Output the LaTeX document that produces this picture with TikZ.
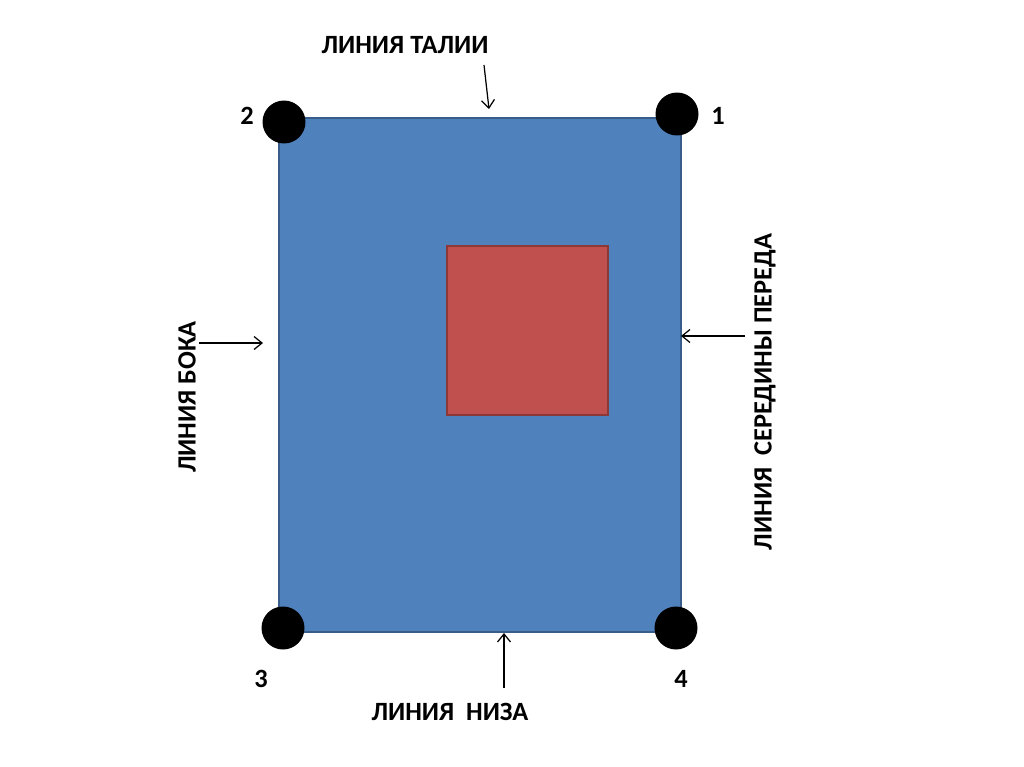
\documentclass[tikz,border=0pt]{standalone}
\usepackage{fontspec}
\usetikzlibrary{arrows.meta}
\setmainfont{Carlito}
\definecolor{panelblue}{HTML}{4F81BD}
\definecolor{panelblueline}{HTML}{385D8A}
\definecolor{patchred}{HTML}{C0504D}
\definecolor{patchredline}{HTML}{8C3836}
\begin{document}
\begin{tikzpicture}[
    x=0.02cm, y=-0.02cm,
    lbl/.style={font=\fontsize{15}{18}\selectfont\bfseries, inner sep=0pt},
    corner/.style={circle, fill=black, minimum size=0.86cm, inner sep=0pt},
    pointer/.style={-{Straight Barb[length=1.6mm, width=2.6mm]}, line width=0.7pt}
]
\useasboundingbox (0,0) rectangle (1024,767);

% Panel
\draw[fill=panelblue, draw=panelblueline, line width=1.2pt] (279,118) rectangle (681,632);

% Patch
\draw[fill=patchred, draw=patchredline, line width=1.2pt] (447,246) rectangle (608,415);

% Corner points
\node[corner] (p2) at (284,122) {};
\node[corner] (p1) at (677,114) {};
\node[corner] (p3) at (283,628) {};
\node[corner] (p4) at (676,628) {};

% Numbers
\node[lbl] (n2) at (247,116) {2};
\node[lbl] (n1) at (718,116) {1};
\node[lbl] (n3) at (261,679) {3};
\node[lbl] (n4) at (681,679) {4};

% Labels
\node[lbl] (waist) at (405,45) {ЛИНИЯ ТАЛИИ};
\node[lbl, rotate=90] (side) at (187,397) {ЛИНИЯ БОКА};
\node[lbl, rotate=90] (front) at (765,392) {ЛИНИЯ\ \ СЕРЕДИНЫ ПЕРЕДА};
\node[lbl] (hem) at (450,712) {ЛИНИЯ\ \ НИЗА};

% Arrows
\coordinate (waistA) at (484,65);
\coordinate (waistB) at (489,109);
\coordinate (sideA) at (199,343);
\coordinate (sideB) at (263,343);
\coordinate (frontA) at (745,336);
\coordinate (frontB) at (681,336);
\coordinate (hemA) at (504,688);
\coordinate (hemB) at (504,633);
\draw[pointer] (waistA) -- (waistB);
\draw[pointer] (sideA) -- (sideB);
\draw[pointer] (frontA) -- (frontB);
\draw[pointer] (hemA) -- (hemB);

\end{tikzpicture}
\end{document}
